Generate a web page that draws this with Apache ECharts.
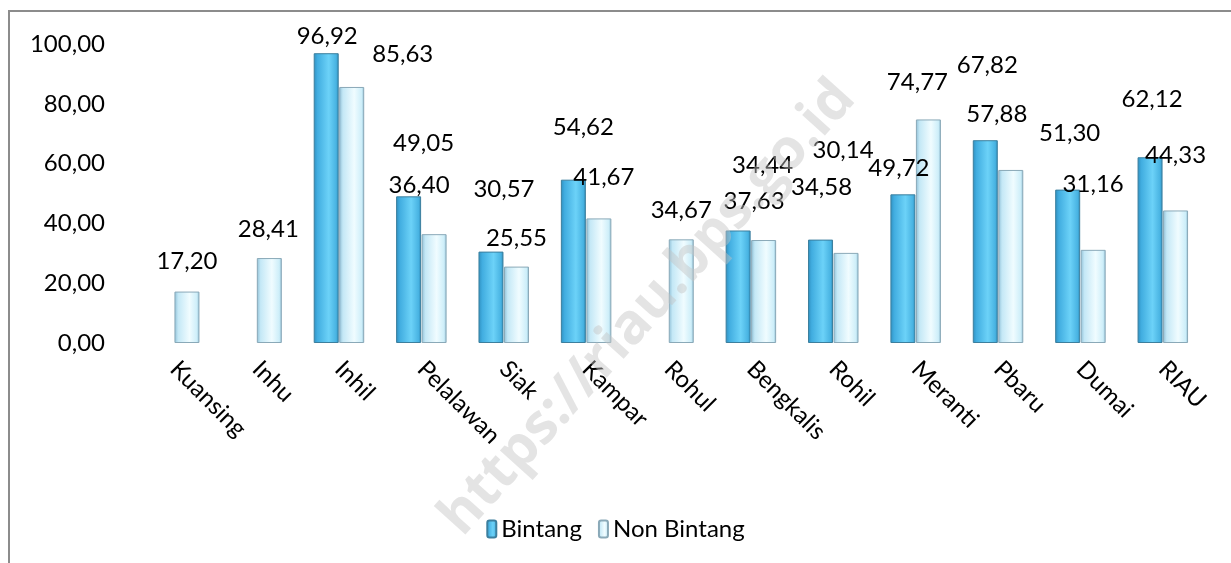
<!DOCTYPE html>
<html>
<head>
<meta charset="utf-8">
<script src="https://cdn.jsdelivr.net/npm/echarts@6/dist/echarts.min.js"></script>
<style>
html,body{margin:0;padding:0;background:#fff;}
#chart{width:1231px;height:563px;}
</style>
</head>
<body>
<div id="chart"></div>
<script>
var categories = ['Kuansing','Inhu','Inhil','Pelalawan','Siak','Kampar','Rohul','Bengkalis','Rohil','Meranti','Pbaru','Dumai','RIAU'];
var legendData = ['Bintang','Non Bintang'];
var bintang = [null,null,96.92,49.05,30.57,54.62,null,37.63,34.58,49.72,67.82,51.30,62.12];
var nonBintang = [17.20,28.41,85.63,36.40,25.55,41.67,34.67,34.44,30.14,74.77,57.88,31.16,44.33];
var yTicks = [0,20,40,60,80,100];

// label nudges (Excel had moved its labels around)
var shiftB = [null,null,[1,0],[15,-36],[13,-45],[10,-35],null,[16,-12],[1,-35],[-4,-9],[2,-58],[2,-39],[2,-41]];
var shiftN = [[0,-13],[-1,-12],[51,-16],[-15,-32],[0,-11],[5,-24],[0,-12],[-1,-58],[-3,-86],[-11,-20],[-14,-39],[0,-49],[0,-38]];

function fmt(v){
    return Number(v).toFixed(2).replace('.',',');
}

function buildData(vals,shifts){
    var out=[];
    for(var i=0;i<vals.length;i++){
        if(vals[i]==null){
            out.push('-');
        }else{
            out.push({value:vals[i],label:{offset:shifts[i]||[0,0]}});
        }
    }
    return out;
}

var fontName = 'Lato, "Open Sans", sans-serif';
var colB = new echarts.graphic.LinearGradient(0,0,1,0,[
    {offset:0,color:'#2f8fbf'},{offset:0.15,color:'#41ade0'},
    {offset:0.6,color:'#6cd2f8'},{offset:0.9,color:'#48b3e2'},{offset:1,color:'#2c88b5'}]);
var colN = new echarts.graphic.LinearGradient(0,0,1,0,[
    {offset:0,color:'#8fbfd6'},{offset:0.15,color:'#c4e8f6'},
    {offset:0.6,color:'#f0fcff'},{offset:0.9,color:'#cdeef9'},{offset:1,color:'#8cbbd1'}]);

var labelStyle = {show:true,position:'top',distance:5,color:'#000',fontSize:24,fontFamily:fontName,formatter:function(p){return fmt(p.value);}};

var chart = echarts.init(document.getElementById('chart'));
var option = {
    animation:false,
    textStyle:{fontFamily:fontName},
    graphic:[
        {type:'rect',shape:{x:9,y:11,width:1300,height:700},style:{fill:null,stroke:'#8c8c8c',lineWidth:2},z:-10},
        {type:'text',x:648,y:308,rotation:Math.PI*48/180,originX:0,originY:0,
         style:{text:'https://riau.bps.go.id',font:'bold 56px "Open Sans", sans-serif',fill:'rgba(195,195,195,0.45)',align:'center',verticalAlign:'middle'},z:100}
    ],
    legend:{
        data:legendData,
        bottom:17,
        left:'center',
        itemWidth:9,
        itemHeight:17,
        itemGap:16,
        textStyle:{fontSize:24,color:'#000',fontFamily:fontName}
    },
    grid:{left:133,right:27,top:44,bottom:220},
    xAxis:{
        type:'category',
        data:categories,
        axisLine:{show:false},
        axisTick:{show:false},
        splitLine:{show:false},
        axisLabel:{interval:0,rotate:-45,margin:22,fontSize:24,color:'#000',fontFamily:fontName}
    },
    yAxis:{
        type:'value',
        min:yTicks[0],
        max:yTicks[yTicks.length-1],
        interval:20,
        axisLine:{show:false},
        axisTick:{show:false},
        splitLine:{show:false},
        axisLabel:{margin:28,fontSize:24,color:'#000',fontFamily:fontName,formatter:function(v){return fmt(v);}}
    },
    series:[
        {name:legendData[0],type:'bar',data:buildData(bintang,shiftB),barWidth:25,barGap:'2%',barCategoryGap:'38%',
         itemStyle:{color:colB,borderColor:'#3c7f9e',borderWidth:1},label:labelStyle},
        {name:legendData[1],type:'bar',data:buildData(nonBintang,shiftN),barWidth:25,
         itemStyle:{color:colN,borderColor:'#8aa9b8',borderWidth:1},label:labelStyle}
    ]
};
chart.setOption(option);
</script>
</body>
</html>
